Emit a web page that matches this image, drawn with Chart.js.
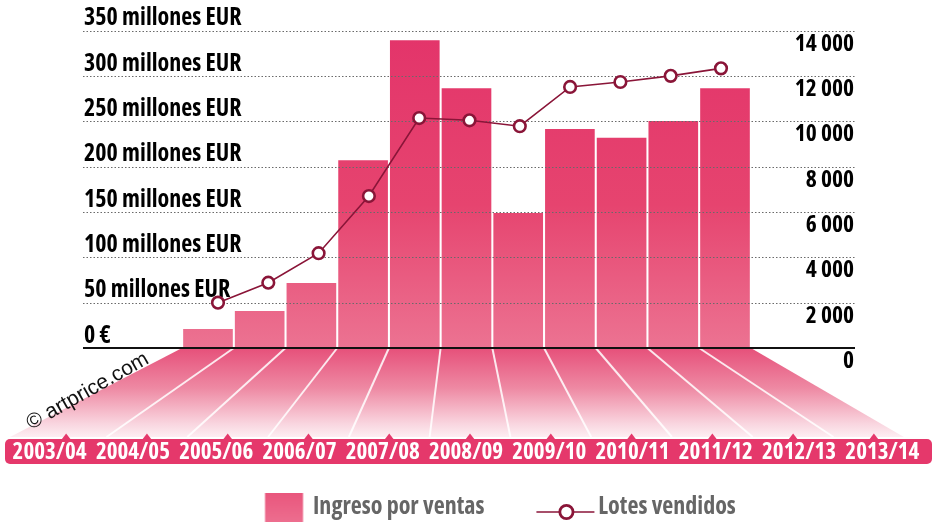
<!DOCTYPE html>
<html><head><meta charset="utf-8">
<script src="https://cdn.jsdelivr.net/npm/chart.js@4.4.1/dist/chart.umd.min.js"></script>
<style>html,body{margin:0;padding:0;background:#fff;overflow:hidden}#wrap{width:933px;height:524px;position:relative}</style>
</head><body><div id="wrap"><canvas id="c"></canvas></div>
<script>
// ---- data ----
const categories = ['2003/04','2004/05','2005/06','2006/07','2007/08','2008/09','2009/10','2010/11','2011/12','2012/13','2013/14'];
const ingresos = [20.6, 40.5, 71.3, 206.5, 339, 286, 148.5, 241, 231.5, 250, 286]; // millones EUR
const lotes = [2000, 2880, 4180, 6700, 10140, 10040, 9780, 11510, 11730, 12000, 12330];
const ingresoTicks = ['0 €','50 millones EUR','100 millones EUR','150 millones EUR','200 millones EUR','250 millones EUR','300 millones EUR','350 millones EUR'];
const lotesTicks = ['0','2 000','4 000','6 000','8 000','10 000','12 000','14 000'];
const seriesNames = ['Ingreso por ventas','Lotes vendidos'];
const copyrightText = '© artprice.com';

// ---- font choice (condensed bold) ----
const mctx = document.createElement('canvas').getContext('2d');
function setFont(f) { mctx.font = '10px serif'; mctx.font = f; return mctx.font.indexOf('10px') === -1; }
function widthOf(font, text) { setFont(font); return mctx.measureText(text).width; }
function hasFamily(fam) {
  const s = 'abcdefghijklmnopqrstuvwxyz 0123456789 EUR';
  return widthOf('bold 40px ' + fam + ', monospace', s) !== widthOf('bold 40px monospace', s) ||
         widthOf('bold 40px ' + fam + ', serif', s) !== widthOf('bold 40px serif', s);
}
const candidates = [
  {weight: 'bold', family: "'Liberation Sans Narrow'", stretch: false},
  {weight: 'condensed bold', family: "'Open Sans'", stretch: true},
  {weight: 'condensed bold', family: "'Noto Sans'", stretch: true},
  {weight: 'condensed bold', family: 'Roboto', stretch: true},
  {weight: 'bold', family: "'DejaVu Sans Condensed'", stretch: false},
  {weight: 'bold', family: "'Liberation Sans'", stretch: false}
];
let COND = candidates[candidates.length - 1];
for (const c of candidates) {
  if (!hasFamily(c.family)) continue;
  if (c.stretch) {
    const s = '350 millones EUR';
    if (!setFont('condensed bold 40px ' + c.family)) continue;
    if (widthOf('condensed bold 40px ' + c.family, s) > 0.93 * widthOf('bold 40px ' + c.family, s)) continue;
  }
  COND = c; break;
}
const emW = t => widthOf(COND.weight + ' 100px ' + COND.family, t) / 100;
const clamp = (v, a, b) => Math.round(Math.max(a, Math.min(b, v)) * 2) / 2;
const LEFT_SIZE = clamp(159 / emW('350 millones EUR'), 17, 26);
const RIGHT_SIZE = clamp(59 / emW('14 000'), 17, 27);
const XLAB_SIZE = clamp(74 / emW('2003/04'), 17, 27);
const LEG_SIZE = clamp(170 / emW('Ingreso por ventas'), 17, 26);
const fontOf = size => ({family: COND.family, weight: COND.weight, size});

// ---- style ----
const PINK = '#e5386b';
const MAROON = '#8a1538';
const GRID_L = 83, GRID_R = 855;
const CHART_BOTTOM = 348;

// ---- legend geometry ----
const H = LEG_SIZE / 2;
const legFontStr = COND.weight + ' ' + LEG_SIZE + 'px ' + COND.family;
const T1 = widthOf(legFontStr, seriesNames[0]), T2 = widthOf(legFontStr, seriesNames[1]);
const TEXT1 = 313;
const LP = 932 - 2 * TEXT1 - T1 - T2;          // legend padding
const BW = 114 - H - LP;                        // legend box width
const x1 = TEXT1 - BW - H;
const TEXT2 = TEXT1 + T1 + 114;
const x2 = TEXT2 - BW - H;
const ITEM_CY = 507;
const TITLE_H = Math.max(0, Math.ceil(8 - LP));
const legendTop = ITEM_CY - H - LP - TITLE_H;
const X_AXIS_H = legendTop - CHART_BOTTOM;
const BOTTOM_PAD = 524 - (legendTop + TITLE_H + LEG_SIZE + LP + 10);

function symbolCanvas(kind, cx, start, width, dy) {
  const half = Math.ceil(Math.max(Math.abs(start - cx), Math.abs(start + width - cx))) + 2;
  const c = document.createElement('canvas');
  c.width = half * 2; c.height = 40;
  const g = c.getContext('2d');
  const ox = start - (cx - half);
  if (kind === 'bar') {
    const gr = g.createLinearGradient(0, 5, 0, 35);
    gr.addColorStop(0, '#e9557c'); gr.addColorStop(1, '#ed6e8f');
    g.fillStyle = gr;
    g.fillRect(ox, 20 + dy - 14.5, width, 29);
  } else {
    const yy = 20 + dy;
    g.strokeStyle = MAROON; g.lineWidth = 1.6;
    g.beginPath(); g.moveTo(ox, yy); g.lineTo(ox + width, yy); g.stroke();
    g.beginPath(); g.arc(ox + 30, yy, 6.6, 0, Math.PI * 2);
    g.fillStyle = '#fff'; g.fill(); g.lineWidth = 2.8; g.stroke();
  }
  return c;
}
const legendSymbols = [
  symbolCanvas('bar', x1 + BW / 2, TEXT1 - 48, 38, 0.5),
  symbolCanvas('line', x2 + BW / 2, TEXT2 - 62, 58, 5)
];

// ---- plugins ----
const floorPlugin = {
  id: 'floor',
  beforeDraw(chart) {
    const {ctx, chartArea: a, scales: {xb, x}} = chart;
    const n = categories.length;
    const yTop = a.bottom, yBot = a.bottom + 89;
    const mk = i => x.getPixelForValue(i) * 0.97 + 18;
    const topL = xb.getPixelForValue(-0.5), topR = xb.getPixelForValue(n - 0.5);
    const botL = a.left + 2, botR = mk(n - 1) + 30;
    ctx.save();
    const g = ctx.createLinearGradient(0, yTop, 0, yBot);
    g.addColorStop(0, '#e6507a');
    g.addColorStop(0.45, '#ee89a3');
    g.addColorStop(0.85, '#f9d5df');
    g.addColorStop(1, '#fdeef2');
    ctx.fillStyle = g;
    ctx.beginPath();
    ctx.moveTo(topL, yTop); ctx.lineTo(topR, yTop); ctx.lineTo(botR, yBot); ctx.lineTo(botL, yBot);
    ctx.closePath(); ctx.fill();
    ctx.strokeStyle = 'rgba(255,255,255,0.85)';
    ctx.lineWidth = 2;
    for (let i = 0; i < n - 1; i++) {
      ctx.beginPath();
      ctx.moveTo(xb.getPixelForValue(i + 0.5), yTop);
      ctx.lineTo((mk(i) + mk(i + 1)) / 2, yBot);
      ctx.stroke();
    }
    ctx.fillStyle = PINK;
    ctx.beginPath();
    ctx.roundRect(5, yBot + 2, chart.width - 6, 25, 5);
    ctx.fill();
    for (let i = 0; i < n; i++) {
      const m = mk(i);
      ctx.beginPath();
      ctx.moveTo(m - 5, yBot + 3); ctx.lineTo(m, yBot - 3.5); ctx.lineTo(m + 5, yBot + 3);
      ctx.closePath(); ctx.fill();
    }
    // copyright along the left floor edge
    ctx.translate(a.left + 23, yBot - 7);
    ctx.rotate(-29.5 * Math.PI / 180);
    ctx.font = '21px "Liberation Sans", Arial, sans-serif';
    ctx.fillStyle = '#111';
    ctx.textBaseline = 'alphabetic';
    ctx.fillText(copyrightText, 0, 0);
    ctx.restore();
  }
};

const gridPlugin = {
  id: 'dottedGrid',
  afterDatasetDraw(chart, args) {
    if (args.index !== 0) return;
    const {ctx, scales: {y}} = chart;
    ctx.save();
    ctx.strokeStyle = '#6a6a6a';
    ctx.lineWidth = 1.2;
    ctx.setLineDash([1.5, 2]);
    y.ticks.forEach(t => {
      if (t.value === 0) return;
      const py = Math.round(y.getPixelForValue(t.value)) + 0.5;
      ctx.beginPath(); ctx.moveTo(GRID_L, py); ctx.lineTo(GRID_R, py); ctx.stroke();
    });
    ctx.setLineDash([]);
    ctx.strokeStyle = '#111';
    ctx.lineWidth = 1.8;
    const p0 = y.getPixelForValue(0);
    ctx.beginPath(); ctx.moveTo(GRID_L, p0); ctx.lineTo(GRID_R, p0); ctx.stroke();
    ctx.restore();
  }
};

function barFill(c) {
  const a = c.chart.chartArea;
  if (!a) return PINK;
  const g = c.chart.ctx.createLinearGradient(0, a.top, 0, a.bottom);
  g.addColorStop(0, '#e3346a');
  g.addColorStop(0.55, '#e6446f');
  g.addColorStop(1, '#ec7392');
  return g;
}
function noPad(s) { s.paddingLeft = 0; s.paddingRight = 0; s.paddingTop = 0; s.paddingBottom = 0; }

new Chart(document.getElementById('c'), {
  data: {
    labels: categories,
    datasets: [
      {
        type: 'bar', label: seriesNames[0],
        data: ingresos.map((v, i) => ({x: i, y: v})),
        xAxisID: 'xb', yAxisID: 'y', order: 2, grouped: false,
        backgroundColor: barFill, borderWidth: 0, barThickness: 49, maxBarThickness: 49
      },
      {
        type: 'line', label: seriesNames[1],
        data: lotes.map((v, i) => ({x: i, y: v})),
        xAxisID: 'xl', yAxisID: 'y1', order: 1,
        borderColor: MAROON, borderWidth: 1.6, tension: 0,
        pointRadius: 5.8, pointBorderWidth: 2.6,
        pointBackgroundColor: '#fff', pointBorderColor: MAROON
      }
    ]
  },
  options: {
    responsive: true, maintainAspectRatio: false, devicePixelRatio: 1, animation: false,
    layout: {autoPadding: false, padding: {left: 8, right: 9, top: 30.5, bottom: BOTTOM_PAD}},
    events: [],
    scales: {
      x: {
        type: 'category', position: 'bottom', offset: true,
        grid: {display: false, drawTicks: false}, border: {display: false},
        ticks: {color: '#fff', padding: 452 - CHART_BOTTOM - XLAB_SIZE * 0.6, maxRotation: 0, autoSkip: false,
          font: fontOf(XLAB_SIZE)},
        afterFit: s => { s.height = X_AXIS_H; noPad(s); }
      },
      xb: {type: 'linear', display: false, offset: false, bounds: 'data', min: -3.868, max: 13.849},
      xl: {type: 'linear', display: false, offset: false, bounds: 'data', min: -4.175, max: 14.036},
      y: {
        position: 'left', min: 0, max: 350,
        grid: {display: false, drawTicks: false}, border: {display: false},
        ticks: {stepSize: 50, mirror: true, padding: 76, labelOffset: -12, color: '#000',
          font: fontOf(LEFT_SIZE),
          callback: (v, i) => ingresoTicks[i]},
        afterFit: s => { s.width = 0; noPad(s); }
      },
      y1: {
        position: 'right', min: 0, max: 14000,
        grid: {display: false, drawTicks: false}, border: {display: false},
        ticks: {stepSize: 2000, mirror: true, padding: -70, labelOffset: 13.5, color: '#000',
          font: fontOf(RIGHT_SIZE),
          callback: (v, i) => lotesTicks[i]},
        afterFit: s => { s.width = 0; noPad(s); }
      }
    },
    plugins: {
      tooltip: {enabled: false},
      legend: {
        position: 'bottom',
        title: {display: TITLE_H > 0, text: ' ', padding: 0, font: {size: 10, lineHeight: TITLE_H / 10}},
        labels: {
          usePointStyle: true, pointStyleWidth: BW, boxHeight: LEG_SIZE, padding: LP,
          color: '#000', font: fontOf(LEG_SIZE),
          generateLabels: () => seriesNames.map((t, i) => ({
            text: t, pointStyle: legendSymbols[i], fillStyle: 'transparent',
            strokeStyle: 'transparent', lineWidth: 0, hidden: false, datasetIndex: i
          }))
        }
      }
    }
  },
  plugins: [floorPlugin, gridPlugin]
});
</script>
</body></html>
